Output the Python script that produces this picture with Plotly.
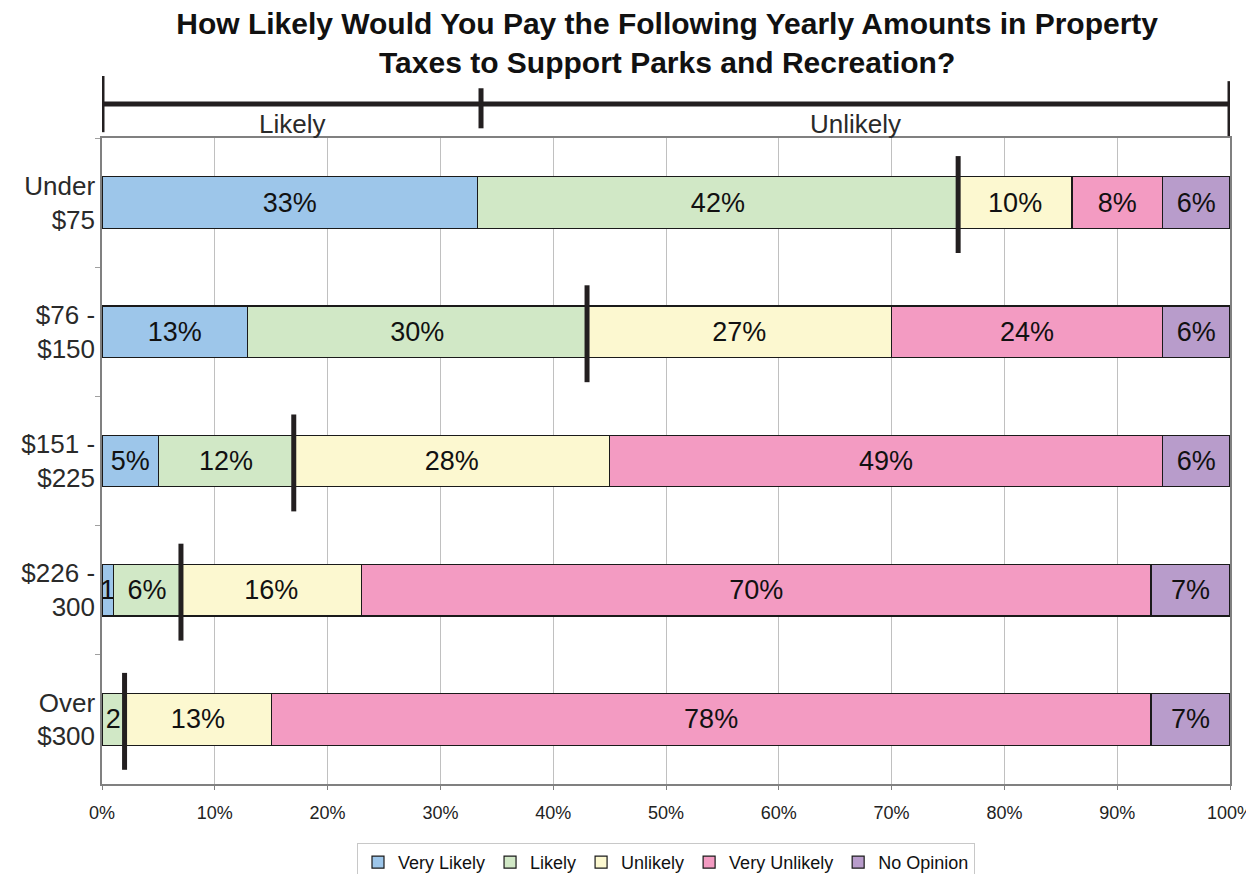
import plotly.graph_objects as go

# ---- data ----
categories = ["Under<br>$75", "$76 -<br>$150", "$151 -<br>$225", "$226 -<br>300", "Over<br>$300"]
very_likely = [33.3, 12.9, 5.0, 1.0, 0.0]
likely = [42.6, 30.1, 12.0, 6.0, 2.0]
unlikely = [10.1, 27.0, 28.0, 16.0, 13.0]
very_unlikely = [8.0, 24.0, 49.0, 70.0, 78.0]
no_opinion = [6.0, 6.0, 6.0, 7.0, 7.0]

labels_very_likely = ["33%", "13%", "5%", "1", ""]
labels_likely = ["42%", "30%", "12%", "6%", "2"]
labels_unlikely = ["10%", "27%", "28%", "16%", "13%"]
labels_very_unlikely = ["8%", "24%", "49%", "70%", "78%"]
labels_no_opinion = ["6%", "6%", "6%", "7%", "7%"]

series_names = ["Very Likely", "Likely", "Unlikely", "Very Unlikely", "No Opinion"]
x_ticks = [0, 10, 20, 30, 40, 50, 60, 70, 80, 90, 100]
x_tick_labels = ["0%", "10%", "20%", "30%", "40%", "50%", "60%", "70%", "80%", "90%", "100%"]

# top bracket: group edges (percent) and group names
bracket_edges = [0, 33.6, 100]
bracket_groups = ["Likely", "Unlikely"]

title_text = ("How Likely Would You Pay the Following Yearly Amounts in Property<br>"
              "Taxes to Support Parks and Recreation?")

# ---- styling ----
colors = ["#9dc6ea", "#d1e8c6", "#fcf8d0", "#f39bc2", "#b89ccb"]
FONT = "Liberation Sans, Arial, sans-serif"
DARK = "#231f20"

series_values = [very_likely, likely, unlikely, very_unlikely, no_opinion]
series_labels = [labels_very_likely, labels_likely, labels_unlikely,
                 labels_very_unlikely, labels_no_opinion]

fig = go.Figure()
for name, vals, labs, col in zip(series_names, series_values, series_labels, colors):
    fig.add_trace(go.Bar(
        y=categories, x=vals, name=name, orientation="h",
        marker=dict(color=col, line=dict(color="#1a1a1a", width=1.2)),
        text=labs, textposition="inside", insidetextanchor="middle",
        textangle=0, textfont=dict(size=27, color="#111111", family=FONT),
        width=0.4, hoverinfo="x+name",
    ))

shapes = []
# separator markers at the end of the "likely" portion of each bar
for i, (a, b) in enumerate(zip(very_likely, likely)):
    shapes.append(dict(type="line", xref="x", yref="y",
                       x0=a + b, x1=a + b, y0=i - 0.36, y1=i + 0.39,
                       line=dict(color=DARK, width=5)))

# top bracket
bar_y = 1.0526
shapes.append(dict(type="line", xref="x", yref="paper",
                   x0=bracket_edges[0], x1=bracket_edges[-1], y0=bar_y, y1=bar_y,
                   line=dict(color=DARK, width=5)))
tick_extents = [(1.009, 1.096), (1.015, 1.077), (1.003, 1.088)]
for xe, (lo, hi) in zip(bracket_edges, tick_extents):
    shapes.append(dict(type="line", xref="x", yref="paper",
                       x0=xe, x1=xe, y0=lo, y1=hi,
                       line=dict(color=DARK, width=5)))

annotations = []
for g, a, b in zip(bracket_groups, bracket_edges[:-1], bracket_edges[1:]):
    annotations.append(dict(text=g, x=(a + b) / 2, xref="x", y=1.0217, yref="paper",
                            showarrow=False, xanchor="center", yanchor="middle",
                            font=dict(size=26, color="#2a2a2a", family=FONT)))

# the page body adds 8px around the figure, so the figure is 8px smaller
fig.update_layout(
    width=1246, height=866,
    barmode="stack",
    paper_bgcolor="white", plot_bgcolor="white",
    margin=dict(l=94, r=24, t=130, b=90, autoexpand=False),
    title=dict(text=title_text, x=0.529, xanchor="center", y=0.970, yanchor="middle",
               font=dict(size=30, color="#111111", family=FONT, weight="bold")),
    font=dict(family=FONT, color="#222222"),
    showlegend=True,
    legend=dict(orientation="h", x=0.5, xanchor="center", y=-0.0913, yanchor="top",
                bordercolor="#c8c8c8", borderwidth=1, font=dict(size=18, color="#111111"),
                itemwidth=30, traceorder="normal"),
    uniformtext=dict(mode="show", minsize=27),
    shapes=shapes,
    annotations=annotations,
)

fig.update_xaxes(range=[0, 100], tickvals=x_ticks, ticktext=x_tick_labels,
                 showgrid=True, gridcolor="#c0c0c0", gridwidth=1,
                 showline=True, linecolor="#808080", linewidth=1.5, mirror=True,
                 ticks="outside", ticklen=4, tickcolor="#808080",
                 tickfont=dict(size=18, color="#222222"), ticklabelstandoff=8,
                 zeroline=False)
fig.update_yaxes(type="category", autorange="reversed", tickson="boundaries",
                 showline=True, linecolor="#808080", linewidth=1.5, mirror=True,
                 ticks="outside", ticklen=5, tickcolor="#a0a0a0",
                 tickfont=dict(size=26, color="#2a2a2a"), showgrid=False)

fig.write_html("out.html")
